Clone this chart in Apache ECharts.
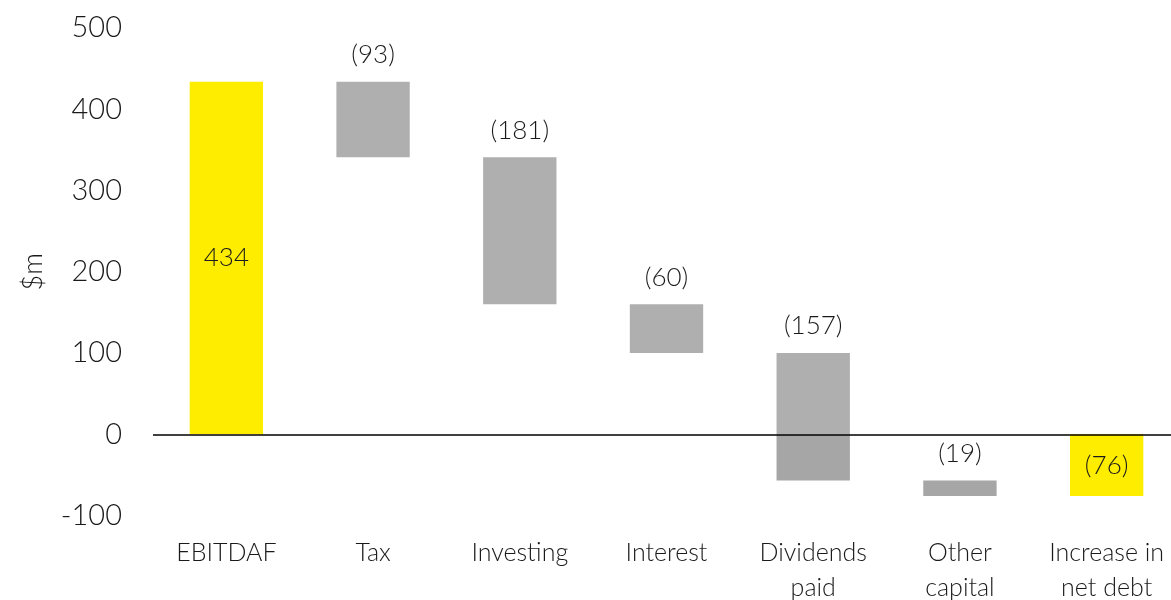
<!DOCTYPE html>
<html>
<head>
<meta charset="utf-8">
<script src="https://cdn.jsdelivr.net/npm/echarts@6/dist/echarts.min.js"></script>
<style>
  html, body { margin: 0; padding: 0; background: #fff; }
  #chart { width: 1171px; height: 600px; }
</style>
</head>
<body>
<div id="chart"></div>
<script>
// 数据
const categories = ["EBITDAF", "Tax", "Investing", "Interest", "Dividends\npaid", "Other\ncapital", "Increase in\nnet debt"];
const deltas = [434, -93, -181, -60, -157, -19, -76];
const valueLabels = ["434", "(93)", "(181)", "(60)", "(157)", "(19)", "(76)"];
const isTotal = [true, false, false, false, false, false, true];

const YELLOW = "#ffed00";
const GRAY_UP = "#b0afaf";
const GRAY_DOWN = "#a6a6a6";
const FONT = "Lato";

// 计算每根柱子的起止
const posBase = [], posVal = [], negBase = [], negVal = [];
let running = 0;
deltas.forEach((d, i) => {
  let start, end;
  if (i === 0) { start = 0; end = d; }
  else if (isTotal[i]) { start = 0; end = running; }
  else { start = running; end = running + d; }
  if (!isTotal[i] || i === 0) running = end;

  const lo = Math.min(start, end), hi = Math.max(start, end);
  const color = isTotal[i] ? YELLOW : GRAY_UP;
  const colorDown = isTotal[i] ? YELLOW : GRAY_DOWN;
  const inside = isTotal[i];
  const labelOn = (show) => ({
    show: show,
    formatter: valueLabels[i],
    position: inside ? "inside" : "top",
    distance: 14,
  });

  let labelUsed = false;
  if (hi > 0) {
    const b = Math.max(lo, 0);
    posBase.push(b);
    labelUsed = true;
    posVal.push({ value: hi - b, itemStyle: { color: color }, label: labelOn(true) });
  } else {
    posBase.push("-");
    posVal.push("-");
  }
  if (lo < 0) {
    const b = Math.min(hi, 0);
    negBase.push(b === 0 ? "-" : b);
    negVal.push({ value: lo - b, itemStyle: { color: colorDown }, label: labelOn(!labelUsed) });
  } else {
    negBase.push("-");
    negVal.push("-");
  }
});

const chart = echarts.init(document.getElementById("chart"));

const baseStyle = { color: "rgba(0,0,0,0)" };
const labelStyle = { color: "#1a1a1a", fontSize: 26, fontWeight: 300, fontFamily: FONT };

chart.setOption({
  animation: false,
  grid: { left: 153, top: 28, width: 1027, bottom: 84.5, containLabel: false, outerBoundsMode: "none" },
  xAxis: {
    type: "category",
    data: categories,
    axisLine: { show: false, onZero: false },
    axisTick: { show: false },
    axisLabel: {
      interval: 0,
      margin: 20,
      color: "#1a1a1a",
      fontSize: 25,
      fontWeight: 300,
      lineHeight: 35,
      fontFamily: FONT,
    },
  },
  yAxis: {
    type: "value",
    min: -100,
    max: 500,
    interval: 100,
    name: "$m",
    nameLocation: "middle",
    nameGap: 106,
    nameTextStyle: { color: "#1a1a1a", fontSize: 27, fontWeight: 300, fontFamily: FONT },
    axisLine: { show: false },
    axisTick: { show: false },
    splitLine: { show: false },
    axisLabel: { color: "#1a1a1a", fontSize: 29, fontWeight: 300, fontFamily: FONT, margin: 31 },
  },
  series: [
    {
      name: "posBase", type: "bar", stack: "w", barWidth: "50%",
      itemStyle: baseStyle, silent: true, data: posBase,
      markLine: {
        silent: true, symbol: "none", label: { show: false },
        lineStyle: { color: "#000", width: 1.5, type: "solid" },
        data: [{ yAxis: 0 }],
      },
    },
    { name: "posVal", type: "bar", stack: "w", barWidth: "50%", label: labelStyle, data: posVal },
    { name: "negBase", type: "bar", stack: "w", barWidth: "50%", itemStyle: baseStyle, silent: true, data: negBase },
    { name: "negVal", type: "bar", stack: "w", barWidth: "50%", label: labelStyle, data: negVal },
  ],
});
</script>
</body>
</html>
